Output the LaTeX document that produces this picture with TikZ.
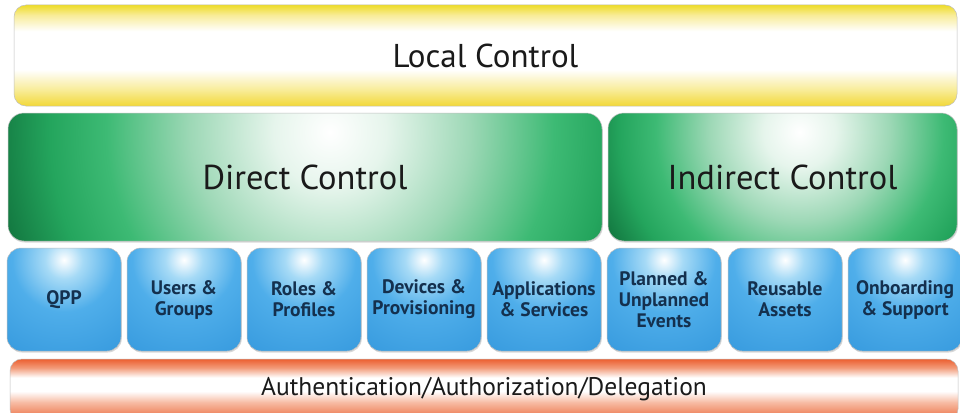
\documentclass[tikz,border=0pt]{standalone}
\usepackage{fontspec}
\setmainfont{PT Sans}
\usetikzlibrary{calc,shadows}
\definecolor{ytop}{HTML}{EEDC28}
\definecolor{ymid}{HTML}{F8EC98}
\definecolor{ybot}{HTML}{F2D838}
\definecolor{rtop}{HTML}{EC5F30}
\definecolor{rmid}{HTML}{F29A78}
\definecolor{rpink}{HTML}{F7BBA3}
\definecolor{rlow}{HTML}{F08E6A}
\definecolor{rbot}{HTML}{EC7650}
\definecolor{ga}{HTML}{E6F5EC}
\definecolor{gb}{HTML}{9DD8B6}
\definecolor{gc}{HTML}{3DBA74}
\definecolor{gd}{HTML}{24A55D}
\definecolor{ge}{HTML}{0F6E3A}
\definecolor{bhl}{HTML}{A6DAF6}
\definecolor{bmid}{HTML}{4FAEEA}
\definecolor{bdark}{HTML}{3397DC}
\definecolor{txt}{HTML}{1A1A1A}
\definecolor{btxt}{HTML}{14304E}
\pgfdeclareverticalshading{yellowbar}{100bp}{color(0bp)=(ybot); color(25bp)=(ybot); color(33bp)=(ymid); color(43bp)=(white); color(62bp)=(white); color(70bp)=(ymid); color(75bp)=(ytop); color(100bp)=(ytop)}
\pgfdeclareverticalshading{redbar}{100bp}{color(0bp)=(rbot); color(25bp)=(rbot); color(32bp)=(rlow); color(40bp)=(rpink); color(49bp)=(white); color(60bp)=(white); color(68bp)=(rmid); color(75bp)=(rtop); color(100bp)=(rtop)}
\pgfdeclareradialshading{greenglow}{\pgfpointorigin}{color(0bp)=(white); color(4bp)=(ga); color(10bp)=(gb); color(16bp)=(gc); color(20bp)=(gd); color(25bp)=(ge); color(50bp)=(ge)}
\pgfdeclareradialshading{blueglow}{\pgfpointorigin}{color(0bp)=(white); color(4bp)=(bhl); color(11bp)=(bmid); color(25bp)=(bdark); color(50bp)=(bdark)}
\begin{document}
\begin{tikzpicture}[x=1pt,y=-1pt,
  layer/.style={draw=black!25, line width=0.5pt, inner sep=0pt, align=center},
  ybarbox/.style={layer, rounded corners=12pt, shade, shading=yellowbar,
    font=\fontsize{33}{36}\selectfont, text=txt},
  gbox/.style={layer, rounded corners=16pt, minimum height=128pt,
    font=\fontsize{34.5}{38}\selectfont, text=txt,
    drop shadow={shadow xshift=0.8pt, shadow yshift=-1.5pt, opacity=0.3}},
  bbox/.style={layer, rounded corners=14pt, minimum width=114pt, minimum height=103pt,
    font=\bfseries\fontsize{19.5}{21}\selectfont, text=btxt,
    drop shadow={shadow xshift=0.8pt, shadow yshift=-1.5pt, opacity=0.3},
    path picture={\shade[shading=blueglow] ($(path picture bounding box.north)+(0,12)$) circle[radius=118pt];}},
  rbarbox/.style={layer, rounded corners=12pt, shade, shading=redbar,
    font=\fontsize{25.5}{28}\selectfont, text=txt}
]
\fill[white] (0,0) rectangle (960,412);
\useasboundingbox (0,0) rectangle (960,412);

\node[ybarbox, minimum width=943pt, minimum height=101pt] (local) at (485.5,55.5) {Local Control};

\node[gbox, minimum width=594pt,
  path picture={\shade[shading=greenglow] ($(path picture bounding box.north)+(25,19)$) circle[radius=350pt];}]
  (direct) at (305,177) {Direct Control};
\node[gbox, minimum width=349pt,
  path picture={\shade[shading=greenglow] ($(path picture bounding box.north)+(17,19)$) circle[radius=225pt];}]
  (indirect) at (782.5,177) {Indirect Control};

\node[bbox] (qpp)   at (64,299.5)  {QPP};
\node[bbox] (users) at (184,299.5) {Users \&\\Groups};
\node[bbox] (roles) at (304,299.5) {Roles \&\\Profiles};
\node[bbox] (dev)   at (424,299.5) {Devices \&\\Provisioning};
\node[bbox] (apps)  at (544,299.5) {Applications\\\& Services};
\node[bbox] (plan)  at (664,299.5) {Planned \&\\Unplanned\\Events};
\node[bbox] (reuse) at (785,299.5) {Reusable\\Assets};
\node[bbox] (onb)   at (905,299.5) {Onboarding\\\& Support};

\node[rbarbox, minimum width=948pt, minimum height=62pt, text depth=0pt] (auth) at (484,390) {\raisebox{8pt}{Authentication/Authorization/Delegation}};
\end{tikzpicture}
\end{document}
